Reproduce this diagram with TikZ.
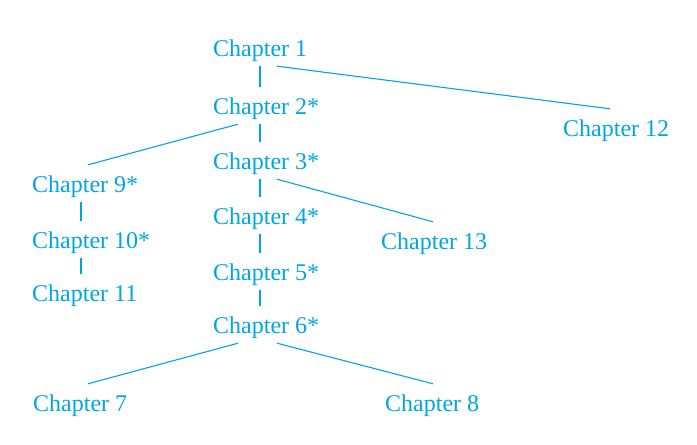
\documentclass[tikz,border=0pt]{standalone}
\usepackage{fontspec}
\setmainfont{Liberation Serif}
\definecolor{chcyan}{RGB}{0,166,226}
\begin{document}
\begin{tikzpicture}[x=1pt,y=-1pt,
  ch/.style={anchor=base west,inner xsep=0pt,inner ysep=9pt,text height=18pt,text depth=1pt,
    font=\fontsize{24}{26}\selectfont,text=chcyan},
  vline/.style={draw=chcyan,line width=1.8pt},
  dline/.style={draw=chcyan,line width=1.1pt}]
\useasboundingbox (0,0) rectangle (697,445);
\coordinate (ax) at (260,0);
\coordinate (axl) at (81,0);
\node[ch] (c1) at (213,56) {Chapter 1};
\node[ch] (c2) at (213,114) {Chapter 2*};
\node[ch] (c3) at (213,169) {Chapter 3*};
\node[ch] (c4) at (213,224) {Chapter 4*};
\node[ch] (c5) at (213,280) {Chapter 5*};
\node[ch] (c6) at (213,333) {Chapter 6*};
\node[ch] (c12) at (563,136) {Chapter 12};
\node[ch] (c9) at (32,192) {Chapter 9*};
\node[ch] (c10) at (32,248) {Chapter 10*};
\node[ch] (c11) at (32,301) {Chapter 11};
\node[ch] (c13) at (381,249) {Chapter 13};
\node[ch] (c7) at (33,411) {Chapter 7};
\node[ch] (c8) at (385,411) {Chapter 8};
\coordinate (x277) at (277,0);
\coordinate (x238) at (238,0);
\coordinate (x610) at (610,0);
\coordinate (x88) at (88,0);
\coordinate (x433) at (433,0);
\foreach \a/\b in {c1/c2,c2/c3,c3/c4,c4/c5,c5/c6}
  \draw[vline] (\a.south -| ax) -- (\b.north -| ax);
\foreach \a/\b in {c9/c10,c10/c11}
  \draw[vline] (\a.south -| axl) -- (\b.north -| axl);
\draw[dline] (c1.south -| x277) -- (c12.north -| x610);
\draw[dline] (c2.south -| x238) -- (c9.north -| x88);
\draw[dline] (c3.south -| x277) -- (c13.north -| x433);
\draw[dline] (c6.south -| x238) -- (c7.north -| x88);
\draw[dline] (c6.south -| x277) -- (c8.north -| x433);
\end{tikzpicture}
\end{document}
